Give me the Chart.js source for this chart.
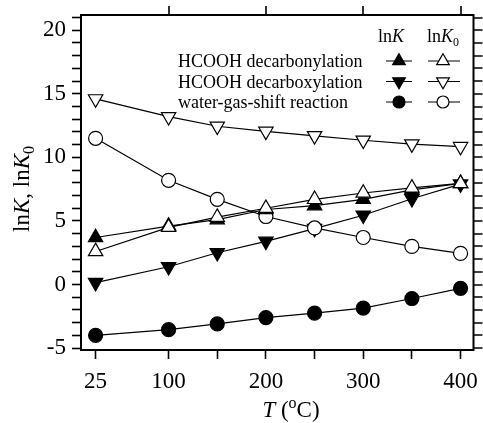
<!DOCTYPE html>
<html><head><meta charset="utf-8">
<script src="https://cdn.jsdelivr.net/npm/chart.js@4.4.0/dist/chart.umd.min.js"></script>
<style>html,body{margin:0;padding:0;background:#fff;}#wrap{width:483px;height:423px;position:relative}</style>
</head><body><div id="wrap"><canvas id="c" width="483" height="423"></canvas></div>
<script>
// ---- data ----
const temperatures = [25, 100, 150, 200, 250, 300, 350, 400];
const decarbonylationLnK  = [3.7, 4.6, 5.1, 5.9, 6.2, 6.7, 7.45, 7.95];
const decarbonylationLnK0 = [2.6, 4.5, 5.3, 6.0, 6.7, 7.2, 7.6, 7.95];
const decarboxylationLnK  = [0.15, 1.4, 2.5, 3.4, 4.4, 5.45, 6.75, 7.9];
const decarboxylationLnK0 = [14.6, 13.2, 12.45, 12.05, 11.7, 11.35, 11.05, 10.85];
const wgsLnK  = [-4.0, -3.55, -3.1, -2.6, -2.25, -1.85, -1.1, -0.3];
const wgsLnK0 = [11.5, 8.2, 6.7, 5.35, 4.45, 3.7, 3.0, 2.45];
const xTicks = [25, 100, 150, 200, 250, 300, 350, 400];
const xTickLabels = ['25', '100', '', '200', '', '300', '', '400'];
const xTopTicks = [100, 200, 300, 400];
const yTicks = [-5,-4,-3,-2,-1,0,1,2,3,4,5,6,7,8,9,10,11,12,13,14,15,16,17,18,19,20,21];
const yTickLabels = [-5, 0, 5, 10, 15, 20];
const seriesNames = ['HCOOH decarbonylation', 'HCOOH decarboxylation', 'water-gas-shift reaction'];

const FONT = 'Liberation Serif';

function pts(arr) { return temperatures.map((t, i) => ({ x: t, y: arr[i] })); }
function ds(label, arr, style, rot, filled) {
  return {
    label, data: pts(arr), showLine: true,
    borderColor: '#000', borderWidth: 1.2,
    pointStyle: style, pointRotation: rot,
    pointRadius: style === 'circle' ? 7 : 8.3,
    pointHoverRadius: style === 'circle' ? 7 : 8.3,
    pointBackgroundColor: filled ? '#000' : '#fff',
    pointBorderColor: '#000', pointBorderWidth: 1.2
  };
}

function drawRich(ctx, parts, x, y, size, align) {
  const fontOf = p => (p.italic ? 'italic ' : '') + Math.round(p.sub || p.sup ? size * 0.68 : size) + 'px "' + FONT + '"';
  let w = 0;
  parts.forEach(p => { ctx.font = fontOf(p); w += ctx.measureText(p.t).width; });
  let cx = align === 'center' ? x - w / 2 : (align === 'right' ? x - w : x);
  ctx.textAlign = 'left';
  ctx.textBaseline = 'alphabetic';
  ctx.fillStyle = '#000';
  parts.forEach(p => {
    ctx.font = fontOf(p);
    let dy = 0;
    if (p.sub) dy = size * 0.22;
    if (p.sup) dy = -size * 0.38;
    ctx.fillText(p.t, cx, y + dy);
    cx += ctx.measureText(p.t).width;
  });
}

const decor = {
  id: 'decor',
  afterDraw(chart) {
    const ctx = chart.ctx;
    const a = chart.chartArea;
    const xs = chart.scales.x, ys = chart.scales.y;
    ctx.save();
    // top & right frame
    ctx.strokeStyle = '#000';
    ctx.lineWidth = 2;
    ctx.beginPath();
    ctx.moveTo(a.left - 1, a.top); ctx.lineTo(a.right, a.top); ctx.lineTo(a.right, a.bottom + 1);
    ctx.stroke();
    // mirrored ticks
    ctx.lineWidth = 1.6;
    ctx.beginPath();
    xTopTicks.forEach(v => { const px = Math.round(xs.getPixelForValue(v)); ctx.moveTo(px, a.top); ctx.lineTo(px, a.top - 9); });
    yTicks.forEach(v => { const py = Math.round(ys.getPixelForValue(v)); ctx.moveTo(a.right, py); ctx.lineTo(a.right + 9, py); });
    ctx.stroke();

    // axis titles
    drawRich(ctx, [{ t: 'T', italic: true }, { t: ' (' }, { t: 'o', sup: true }, { t: 'C)' }], 291, 417, 23, 'center');
    ctx.save();
    ctx.translate(29, 189);
    ctx.rotate(-Math.PI / 2);
    drawRich(ctx, [{ t: 'ln' }, { t: 'K', italic: true }, { t: ', ln' }, { t: 'K', italic: true }, { t: '0', sub: true }], 0, 0, 23, 'center');
    ctx.restore();

    // legend
    const LS = 18;
    drawRich(ctx, [{ t: 'ln' }, { t: 'K', italic: true }], 378, 42, LS, 'left');
    drawRich(ctx, [{ t: 'ln' }, { t: 'K', italic: true }, { t: '0', sub: true }], 427, 42, LS, 'left');
    const baselines = [67, 87.5, 108];
    const styles = [['triangle', 0, 7.3], ['triangle', 180, 7.3], ['circle', 0, 6]];
    seriesNames.forEach((name, i) => {
      const b = baselines[i];
      drawRich(ctx, [{ t: name }], 178, b, LS, 'left');
      const my = b - 6;
      ctx.strokeStyle = '#000'; ctx.lineWidth = 1.2;
      ctx.beginPath();
      ctx.moveTo(386, my); ctx.lineTo(412, my);
      ctx.moveTo(428, my); ctx.lineTo(460, my);
      ctx.stroke();
      const [st, rot, r] = styles[i];
      ctx.fillStyle = '#000'; ctx.strokeStyle = '#000'; ctx.lineWidth = 1.2;
      Chart.helpers.drawPoint(ctx, { pointStyle: st, rotation: rot, radius: r, borderWidth: 1.2 }, 399, my);
      ctx.fillStyle = '#fff';
      Chart.helpers.drawPoint(ctx, { pointStyle: st, rotation: rot, radius: r, borderWidth: 1.2 }, 443, my);
    });
    ctx.restore();
  }
};

new Chart(document.getElementById('c'), {
  type: 'scatter',
  data: {
    datasets: [
      ds('decarbonylation lnK0', decarbonylationLnK0, 'triangle', 0, false),
      ds('decarbonylation lnK', decarbonylationLnK, 'triangle', 0, true),
      ds('water-gas-shift lnK0', wgsLnK0, 'circle', 0, false),
      ds('decarboxylation lnK0', decarboxylationLnK0, 'triangle', 180, false),
      ds('decarboxylation lnK', decarboxylationLnK, 'triangle', 180, true),
      ds('water-gas-shift lnK', wgsLnK, 'circle', 0, true)
    ]
  },
  options: {
    responsive: false, animation: false, devicePixelRatio: 1,
    layout: { padding: { left: 0, right: 8, top: 15, bottom: 0 } },
    plugins: { legend: { display: false }, tooltip: { enabled: false } },
    scales: {
      x: {
        type: 'linear', min: 10, max: 413.3,
        afterBuildTicks: s => { s.ticks = xTicks.map(v => ({ value: v })); },
        afterFit: s => { s.height = 73; s.paddingLeft = 0; s.paddingRight = 0; },
        ticks: {
          autoSkip: false, maxRotation: 0, minRotation: 0, padding: 9, color: '#000',
          font: { family: FONT, size: 23 },
          callback: v => xTickLabels[xTicks.indexOf(v)] ?? ''
        },
        grid: { drawOnChartArea: false, tickLength: 9, tickWidth: 1.6, color: '#000' },
        border: { color: '#000', width: 2 }
      },
      y: {
        type: 'linear', min: -5.15, max: 21.2,
        afterBuildTicks: s => { s.ticks = yTicks.map(v => ({ value: v })); },
        afterFit: s => { s.width = 81; s.paddingTop = 0; s.paddingBottom = 0; },
        ticks: {
          autoSkip: false, padding: 6, color: '#000',
          font: { family: FONT, size: 23 },
          callback: v => yTickLabels.includes(v) ? String(v) : ''
        },
        grid: { drawOnChartArea: false, tickLength: 9, tickWidth: 1.6, color: '#000' },
        border: { color: '#000', width: 2 }
      }
    }
  },
  plugins: [decor]
});
</script>
</body></html>
